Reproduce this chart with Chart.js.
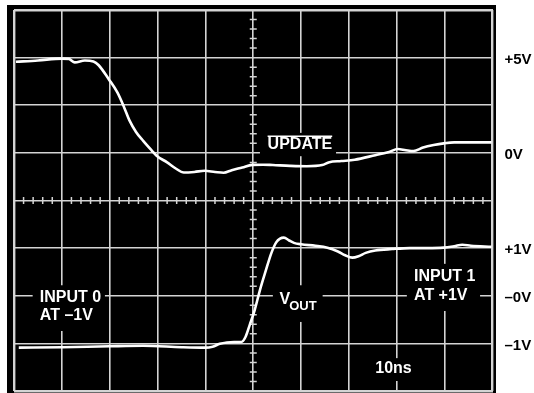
<!DOCTYPE html>
<html>
<head>
<meta charset="utf-8">
<script src="https://cdn.jsdelivr.net/npm/chart.js@4.4.1/dist/chart.umd.min.js"></script>
<style>
  html, body { margin: 0; padding: 0; background: #fff; }
  #wrap { width: 534px; height: 393px; }
</style>
</head>
<body>
<div id="wrap"><canvas id="scope" width="534" height="393"></canvas></div>
<script>
// UPDATE trace: time in ns (10ns/div), level in volts (2.5V/div)
const updateTime = [0.4, 5, 10, 11.5, 12.7, 14.8, 16.6, 17.7, 19.8, 21.6, 23, 24.1, 25.5, 27, 28.8,
  29.8, 32, 33.8, 35.5, 37.7, 39.8, 42, 43.8, 45.5, 47.7, 49.8, 52, 54.1, 57.7, 61.2,
  64.4, 65.9, 68.4, 71.2, 75.5, 78.4, 80.2, 81.9, 83.5, 85.5, 87.7, 89.8, 92, 99.8];
const updateVolts = [4.78, 4.85, 4.95, 4.93, 4.75, 4.85, 4.8, 4.6, 3.87, 3.17, 2.4, 1.72, 1.1, 0.63, 0.12,
  -0.15, -0.5, -0.82, -1.03, -1.0, -0.94, -1.0, -1.04, -0.91, -0.77, -0.63, -0.62, -0.64, -0.68, -0.7,
  -0.64, -0.49, -0.43, -0.36, -0.12, 0.05, 0.2, 0.14, 0.1, 0.28, 0.41, 0.5, 0.55, 0.55];

// VOUT trace: time in ns, level in volts (1V/div)
const voutTime = [1, 10, 20, 27, 35, 40, 41.5, 43, 44.5, 46, 47.5, 48.4, 49.3, 50.3, 51.4,
  52.6, 53.8, 54.8, 55.6, 56.4, 57.5, 58.5, 60, 63, 65.5, 67.7, 69.2, 70.7, 72, 73.5,
  75.5, 79, 82.7, 86.3, 89.8, 92, 93.7, 95.5, 99.8];
const voutVolts = [-1.09, -1.08, -1.06, -1.05, -1.08, -1.09, -1.07, -1.01, -0.98, -0.97, -0.97, -0.86, -0.6, -0.3, 0.12,
  0.52, 0.9, 1.12, 1.2, 1.22, 1.16, 1.11, 1.08, 1.05, 1.01, 0.93, 0.85, 0.8, 0.83, 0.9,
  0.95, 0.98, 1.0, 1.0, 1.01, 1.04, 1.07, 1.05, 1.03];

// right-hand labels, placed on graticule divisions (center line = 0)
const rightTickDivs = [3, 1, -1, -2, -3];
const rightTickLabels = ['+5V', '0V', '+1V', '–0V', '–1V'];

const gridColor = '#d4d4d4';
const textFont = "bold 16px 'Liberation Sans', Arial, sans-serif";

function toPoints(xs, ys) {
  return xs.map((x, i) => ({ x: x, y: ys[i] }));
}

// text blocks on the screen: box and text in ns / division units
const screenNotes = [
  { box: [51.4, 67.3, 1.42, 0.93], lines: [{ text: 'UPDATE', x: 53.0, y: 1.17, over: true }] },
  { box: [3.9, 19.0, -1.78, -2.74], lines: [{ text: 'INPUT 0', x: 5.4, y: -2.04 }, { text: 'AT –1V', x: 5.4, y: -2.42 }] },
  { box: [54.1, 64.5, -1.78, -2.55], lines: [{ text: 'V', x: 55.5, y: -2.09, sub: 'OUT' }] },
  { box: [82.1, 97.4, -1.33, -2.32], lines: [{ text: 'INPUT 1', x: 83.6, y: -1.6 }, { text: 'AT +1V', x: 83.6, y: -2.0 }] },
  { box: [74.8, 83.6, -3.31, -3.79], lines: [{ text: '10ns', x: 75.5, y: -3.54 }] }
];

const scopeDecor = {
  id: 'scopeDecor',
  beforeDraw(chart) {
    const { ctx, chartArea: a } = chart;
    ctx.save();
    ctx.fillStyle = '#000';
    ctx.fillRect(a.left - 7, a.top - 5, a.right - a.left + 10.5, a.bottom - a.top + 7);
    ctx.restore();
  },
  beforeDatasetsDraw(chart) {
    const { ctx } = chart;
    const xs = chart.scales.x;
    const ys = chart.scales.yr;
    const xc = xs.getPixelForValue(50);
    const yc = ys.getPixelForValue(0);
    ctx.save();
    ctx.strokeStyle = gridColor;
    ctx.lineWidth = 1.5;
    ctx.beginPath();
    // minor ticks along the center lines, 5 per division
    for (let t = 2; t < 100; t += 2) {
      if (t % 10 === 0) continue;
      const px = xs.getPixelForValue(t);
      ctx.moveTo(px, yc - 3.5);
      ctx.lineTo(px, yc + 3.5);
    }
    for (let k = -19; k < 20; k++) {
      if (k % 5 === 0) continue;
      const py = ys.getPixelForValue(k / 5);
      ctx.moveTo(xc - 3.5, py);
      ctx.lineTo(xc + 3.5, py);
    }
    ctx.stroke();

    screenNotes.forEach(n => {
      const x0 = xs.getPixelForValue(n.box[0]);
      const x1 = xs.getPixelForValue(n.box[1]);
      const y0 = ys.getPixelForValue(n.box[2]);
      const y1 = ys.getPixelForValue(n.box[3]);
      ctx.fillStyle = '#000';
      ctx.fillRect(x0, y0, x1 - x0, y1 - y0);
      ctx.fillStyle = '#fff';
      ctx.textBaseline = 'middle';
      ctx.textAlign = 'left';
      n.lines.forEach(l => {
        const px = xs.getPixelForValue(l.x);
        const py = ys.getPixelForValue(l.y);
        ctx.font = textFont;
        ctx.fillText(l.text, px, py);
        const w = ctx.measureText(l.text).width;
        if (l.over) {
          ctx.strokeStyle = '#fff';
          ctx.lineWidth = 1.5;
          ctx.beginPath();
          ctx.moveTo(px, py - 8.5);
          ctx.lineTo(px + w, py - 8.5);
          ctx.stroke();
        }
        if (l.sub) {
          ctx.font = "bold 13px 'Liberation Sans', Arial, sans-serif";
          ctx.fillText(l.sub, px + w - 1, py + 6);
        }
      });
    });
    ctx.restore();
  }
};

new Chart(document.getElementById('scope').getContext('2d'), {
  type: 'line',
  data: {
    datasets: [{
      label: 'UPDATE',
      data: toPoints(updateTime, updateVolts),
      yAxisID: 'yu',
      borderColor: '#fff',
      borderWidth: 2.6,
      pointRadius: 0,
      cubicInterpolationMode: 'monotone',
      fill: false
    }, {
      label: 'VOUT',
      data: toPoints(voutTime, voutVolts),
      yAxisID: 'yv',
      borderColor: '#fff',
      borderWidth: 2.6,
      pointRadius: 0,
      cubicInterpolationMode: 'monotone',
      fill: false
    }]
  },
  options: {
    responsive: false,
    animation: false,
    devicePixelRatio: 1,
    events: [],
    layout: { padding: { left: 14, top: 10, right: 0, bottom: 2 } },
    plugins: { legend: { display: false }, tooltip: { enabled: false } },
    scales: {
      x: {
        type: 'linear',
        position: 'bottom',
        min: 0,
        max: 100,
        ticks: { display: false, stepSize: 10 },
        grid: {
          color: gridColor,
          lineWidth: c => (c.tick && (c.tick.value === 0 || c.tick.value === 100)) ? 2.4 : 1.6,
          drawTicks: false
        },
        border: { display: false },
        afterFit(s) { s.height = 0; s.paddingLeft = 0; s.paddingRight = 0; }
      },
      yr: {
        type: 'linear',
        position: 'right',
        min: -4,
        max: 4,
        ticks: {
          stepSize: 1,
          padding: 12,
          labelOffset: 2,
          color: '#000',
          font: { family: "'Liberation Sans', Arial, sans-serif", size: 15, weight: 'bold' },
          callback: v => {
            const i = rightTickDivs.indexOf(v);
            return i >= 0 ? rightTickLabels[i] : '';
          }
        },
        grid: {
          color: gridColor,
          lineWidth: c => (c.tick && Math.abs(c.tick.value) === 4) ? 2.4 : 1.6,
          drawTicks: false
        },
        border: { display: false },
        afterFit(s) { s.width = 41.5; s.paddingTop = 0; s.paddingBottom = 0; }
      },
      yu: { display: false, min: -12.5, max: 7.5 },
      yv: { display: false, min: -2, max: 6 }
    }
  },
  plugins: [scopeDecor]
});
</script>
</body>
</html>
